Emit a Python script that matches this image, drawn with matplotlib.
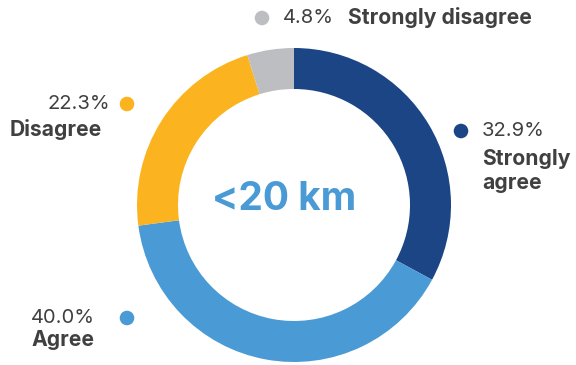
import matplotlib.pyplot as plt

plt.rcParams['font.family'] = ['Inter', 'DejaVu Sans']

categories = ['Strongly agree', 'Agree', 'Disagree', 'Strongly disagree']
values = [32.9, 40.0, 22.3, 4.8]
colors = ['#1c4586', '#4a9bd5', '#fbb41f', '#bcbec1']
center_label = '<20 km'
text_col = '#404040'

W, H = 576, 365
fig = plt.figure(figsize=(W / 100, H / 100), dpi=100)
ax = fig.add_axes([0, 0, 1, 1])

cx, cy, r = 294, H - 205, 157
ax.pie(values, colors=colors, startangle=90, counterclock=False,
       center=(cx, cy), radius=r, frame=True,
       wedgeprops=dict(width=41, edgecolor='none'))
ax.set_xlim(0, W)
ax.set_ylim(0, H)
ax.set_aspect('equal')
ax.axis('off')

ax.text(284, H - 200, center_label, ha='center', va='center',
        fontsize=28, fontweight='bold', color='#4a9bd5')

# label positions in pixels (dot x, dot y)
def dot(x, y, c):
    ax.scatter([x], [H - y], s=110, color=c, edgecolors='none', zorder=5)

fs = 14.5   # percentages
fb = 15.2   # bold names
# Strongly agree
dot(461, 131, colors[0])
ax.text(482, H - 131, f'{values[0]:.1f}%', fontsize=fs, color=text_col, va='center', ha='left')
ax.text(482, H - 159, 'Strongly', fontsize=fb, fontweight='bold', color=text_col, va='center', ha='left')
ax.text(482, H - 183, 'agree', fontsize=fb, fontweight='bold', color=text_col, va='center', ha='left')

# Agree
dot(127, 318, colors[1])
ax.text(31, H - 318, f'{values[1]:.1f}%', fontsize=fs, color=text_col, va='center', ha='left')
ax.text(31, H - 340, categories[1], fontsize=fb, fontweight='bold', color=text_col, va='center', ha='left')

# Disagree
dot(127, 104, colors[2])
ax.text(110, H - 104, f'{values[2]:.1f}%', fontsize=fs, color=text_col, va='center', ha='right')
ax.text(10, H - 129, categories[2], fontsize=fb, fontweight='bold', color=text_col, va='center', ha='left')

# Strongly disagree
dot(262, 18, colors[3])
ax.text(283, H - 18, f'{values[3]:.1f}%', fontsize=fs, color=text_col, va='center', ha='left')
ax.text(348, H - 18, categories[3], fontsize=fb, fontweight='bold', color=text_col, va='center', ha='left')

fig.savefig('out.png', dpi=100)
